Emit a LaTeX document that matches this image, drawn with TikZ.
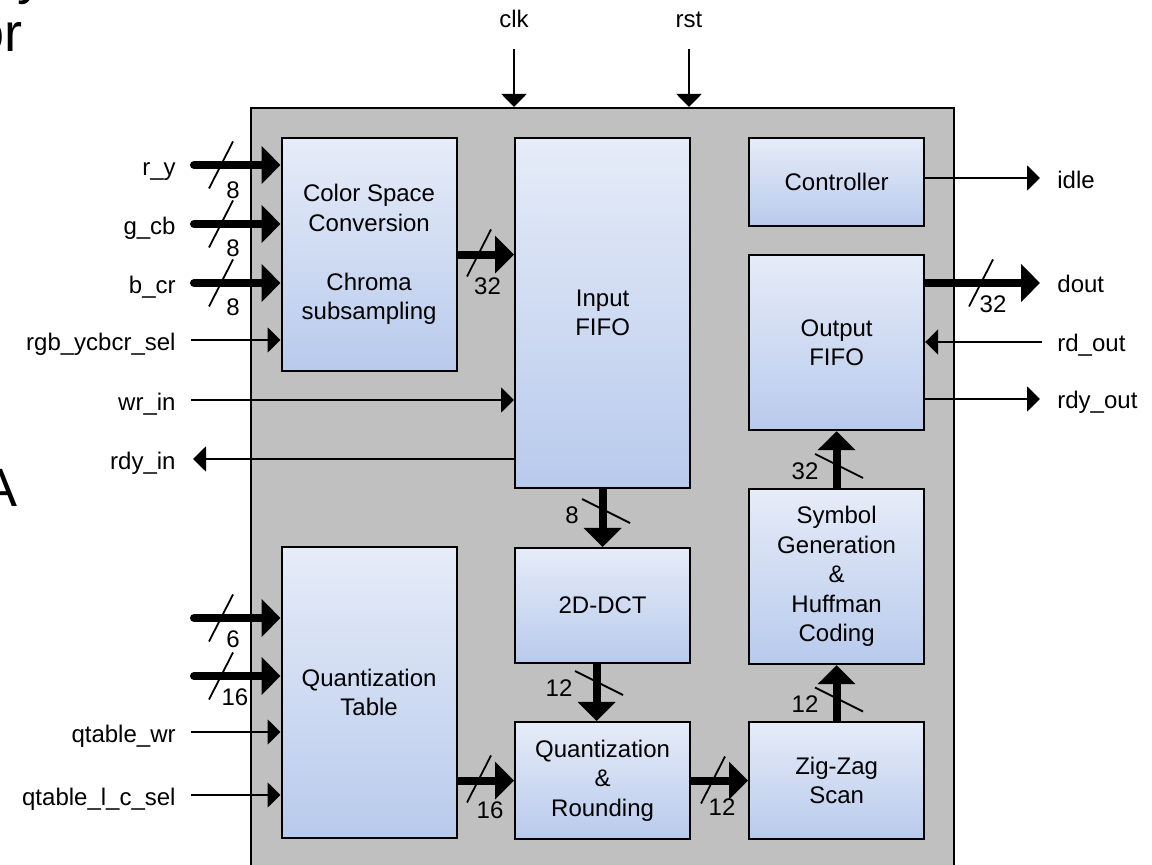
\documentclass[tikz,border=0pt]{standalone}
\usepackage{fontspec}
\setmainfont{Liberation Sans}
\usetikzlibrary{arrows.meta,calc}
\definecolor{coregray}{RGB}{192,192,192}
\definecolor{blktop}{RGB}{230,236,248}
\definecolor{blkbot}{RGB}{184,202,236}
\begin{document}
\begin{tikzpicture}[x=0.5pt,y=-0.5pt,
  font=\fontsize{12}{14.75}\selectfont,
  blk/.style={draw=black, line width=1.1pt, top color=blktop, bottom color=blkbot,
    anchor=north west, align=center, inner sep=0pt, minimum width=87.5pt},
  corebox/.style={draw=black, line width=1pt, fill=coregray, anchor=north west, inner sep=0pt},
  sig/.style={line width=1pt, -{Triangle[length=6.5pt,width=12.5pt]}},
  bus/.style={line width=4pt, -{Triangle[length=9.5pt,width=18.5pt]}},
  busin/.style={bus, line cap=round},
  slash/.style={line width=0.9pt},
  lbl/.style={inner sep=0pt},
  big/.style={inner sep=0pt, font=\fontsize{27}{32}\selectfont},
  hsl/.pic={\draw[slash] (-12,23.5) -- (12,-23.5);},
  vsl/.pic={\draw[slash] (-24,-12) -- (24,12);}
]
\useasboundingbox (0,0) rectangle (1152,865);
\begin{scope}
\clip (0,0) rectangle (1152,865);

% slide text fragments
\node[big, anchor=base east] (fragor) at (23,52) {or};
\node[big, anchor=base west] (fragy) at (17,-6) {y};
\node[big, anchor=base east] (fraga) at (18,507) {A};

% core
\node[corebox, minimum width=351.25pt, minimum height=400pt] (core) at (250,107) {};

% blocks
\node[blk, minimum height=116.5pt] (csc) at (280.5,137) {Color Space\\Conversion\\[14.75pt]Chroma\\subsampling};
\node[blk, minimum height=175pt] (infifo) at (514,137) {Input\\FIFO};
\node[blk, minimum height=44pt] (ctrl) at (748,137) {Controller};
\node[blk, minimum height=87.5pt] (ofifo) at (748,254) {Output\\FIFO};
\node[blk, minimum height=87.5pt] (sym) at (748,488) {Symbol\\Generation\\\&\\Huffman\\Coding};
\node[blk, minimum height=58.5pt] (zz) at (748,721) {Zig-Zag\\Scan};
\node[blk, minimum height=57.5pt] (dct) at (514,547) {2D-DCT};
\node[blk, minimum height=58.5pt] (qr) at (514,721) {Quantization\\\&\\Rounding};
\node[blk, minimum height=145.5pt] (qt) at (280.5,546) {Quantization\\Table};

% free ends
\coordinate (ry) at (194,165);
\coordinate (gcb) at (194,224);
\coordinate (bcr) at (194,283);
\coordinate (rgbsel) at (191,340);
\coordinate (wrin) at (191,400);
\coordinate (rdyin) at (193,459);
\coordinate (qa) at (194,618);
\coordinate (qd) at (194,676);
\coordinate (qwr) at (191,732);
\coordinate (qsel) at (191,795);
\coordinate (clkc) at (514,49);
\coordinate (rstc) at (689,49);
\coordinate (idlec) at (1040,178);
\coordinate (doutc) at (1040,283);
\coordinate (rdoutc) at (1042,342);
\coordinate (rdyoutc) at (1040,399);

% left connectors
\draw[busin] (ry) -- (ry -| csc.west);
\draw[busin] (gcb) -- (gcb -| csc.west);
\draw[busin] (bcr) -- (bcr -| csc.west);
\draw[sig] (rgbsel) -- (rgbsel -| csc.west);
\draw[sig] (wrin) -- (wrin -| infifo.west);
\draw[sig] (infifo.west |- rdyin) -- (rdyin);
\draw[busin] (qa) -- (qa -| qt.west);
\draw[busin] (qd) -- (qd -| qt.west);
\draw[sig] (qwr) -- (qwr -| qt.west);
\draw[sig] (qsel) -- (qsel -| qt.west);

% top
\draw[sig] (clkc) -- (clkc |- core.north);
\draw[sig] (rstc) -- (rstc |- core.north);

% right
\draw[sig] (ctrl.east |- idlec) -- (idlec);
\draw[bus] (ofifo.east |- doutc) -- (doutc);
\draw[sig] (rdoutc) -- (rdoutc -| ofifo.east);
\draw[sig] (ofifo.east |- rdyoutc) -- (rdyoutc);

% internal buses
\draw[bus] (csc.east) -- (csc.east -| infifo.west);
\draw[bus] (infifo.south) -- (dct.north);
\draw[bus] ($(dct.south)+(-6,0)$) -- ($(qr.north)+(-6,0)$);
\draw[bus] (qr.west -| qt.east) -- (qr.west);
\draw[bus] (qr.east) -- (zz.west);
\draw[bus] (zz.north) -- (sym.south);
\draw[bus] (sym.north) -- (ofifo.south);

% bus slashes
\pic at (221,165) {hsl};
\pic at (221,224) {hsl};
\pic at (221,283) {hsl};
\pic at (479,253) {hsl};
\pic at (221,618) {hsl};
\pic at (221,676) {hsl};
\pic at (479,779) {hsl};
\pic at (713,780) {hsl};
\pic at (981,283) {hsl};
\pic at (606,511) {vsl};
\pic at (599,683) {vsl};
\pic at (839,699.5) {vsl};
\pic at (839,466) {vsl};

% bus widths
\node[lbl] (w1) at (233,190) {8};
\node[lbl] (w2) at (233,248) {8};
\node[lbl] (w3) at (233,307) {8};
\node[lbl] (w4) at (487.5,286) {32};
\node[lbl] (w5) at (233,639) {6};
\node[lbl] (w6) at (235,697.5) {16};
\node[lbl] (w7) at (490,810) {16};
\node[lbl] (w8) at (722,807) {12};
\node[lbl] (w9) at (993,304.5) {32};
\node[lbl] (w10) at (572,515.5) {8};
\node[lbl] (w11) at (559,688.5) {12};
\node[lbl] (w12) at (805,704) {12};
\node[lbl] (w13) at (805,471) {32};

% port labels
\node[lbl, anchor=base east] (lry) at (176,175.5) {r\_y};
\node[lbl, anchor=base east] (lgcb) at (176,234.5) {g\_cb};
\node[lbl, anchor=base east] (lbcr) at (176,293.5) {b\_cr};
\node[lbl, anchor=base east] (lsel) at (176,350.5) {rgb\_ycbcr\_sel};
\node[lbl, anchor=base east] (lwr) at (176,410.5) {wr\_in};
\node[lbl, anchor=base east] (lrdy) at (176,469.5) {rdy\_in};
\node[lbl, anchor=base east] (lqwr) at (176,742.5) {qtable\_wr};
\node[lbl, anchor=base east] (lqsel) at (176,805.5) {qtable\_l\_c\_sel};
\node[lbl, anchor=base] (lclk) at (514,28) {clk};
\node[lbl, anchor=base] (lrst) at (689,28) {rst};
\node[lbl, anchor=base west] (lidle) at (1057,189) {idle};
\node[lbl, anchor=base west] (ldout) at (1057,293) {dout};
\node[lbl, anchor=base west] (lrd) at (1057,352) {rd\_out};
\node[lbl, anchor=base west] (lrdyo) at (1057,409) {rdy\_out};
\end{scope}
\end{tikzpicture}
\end{document}
